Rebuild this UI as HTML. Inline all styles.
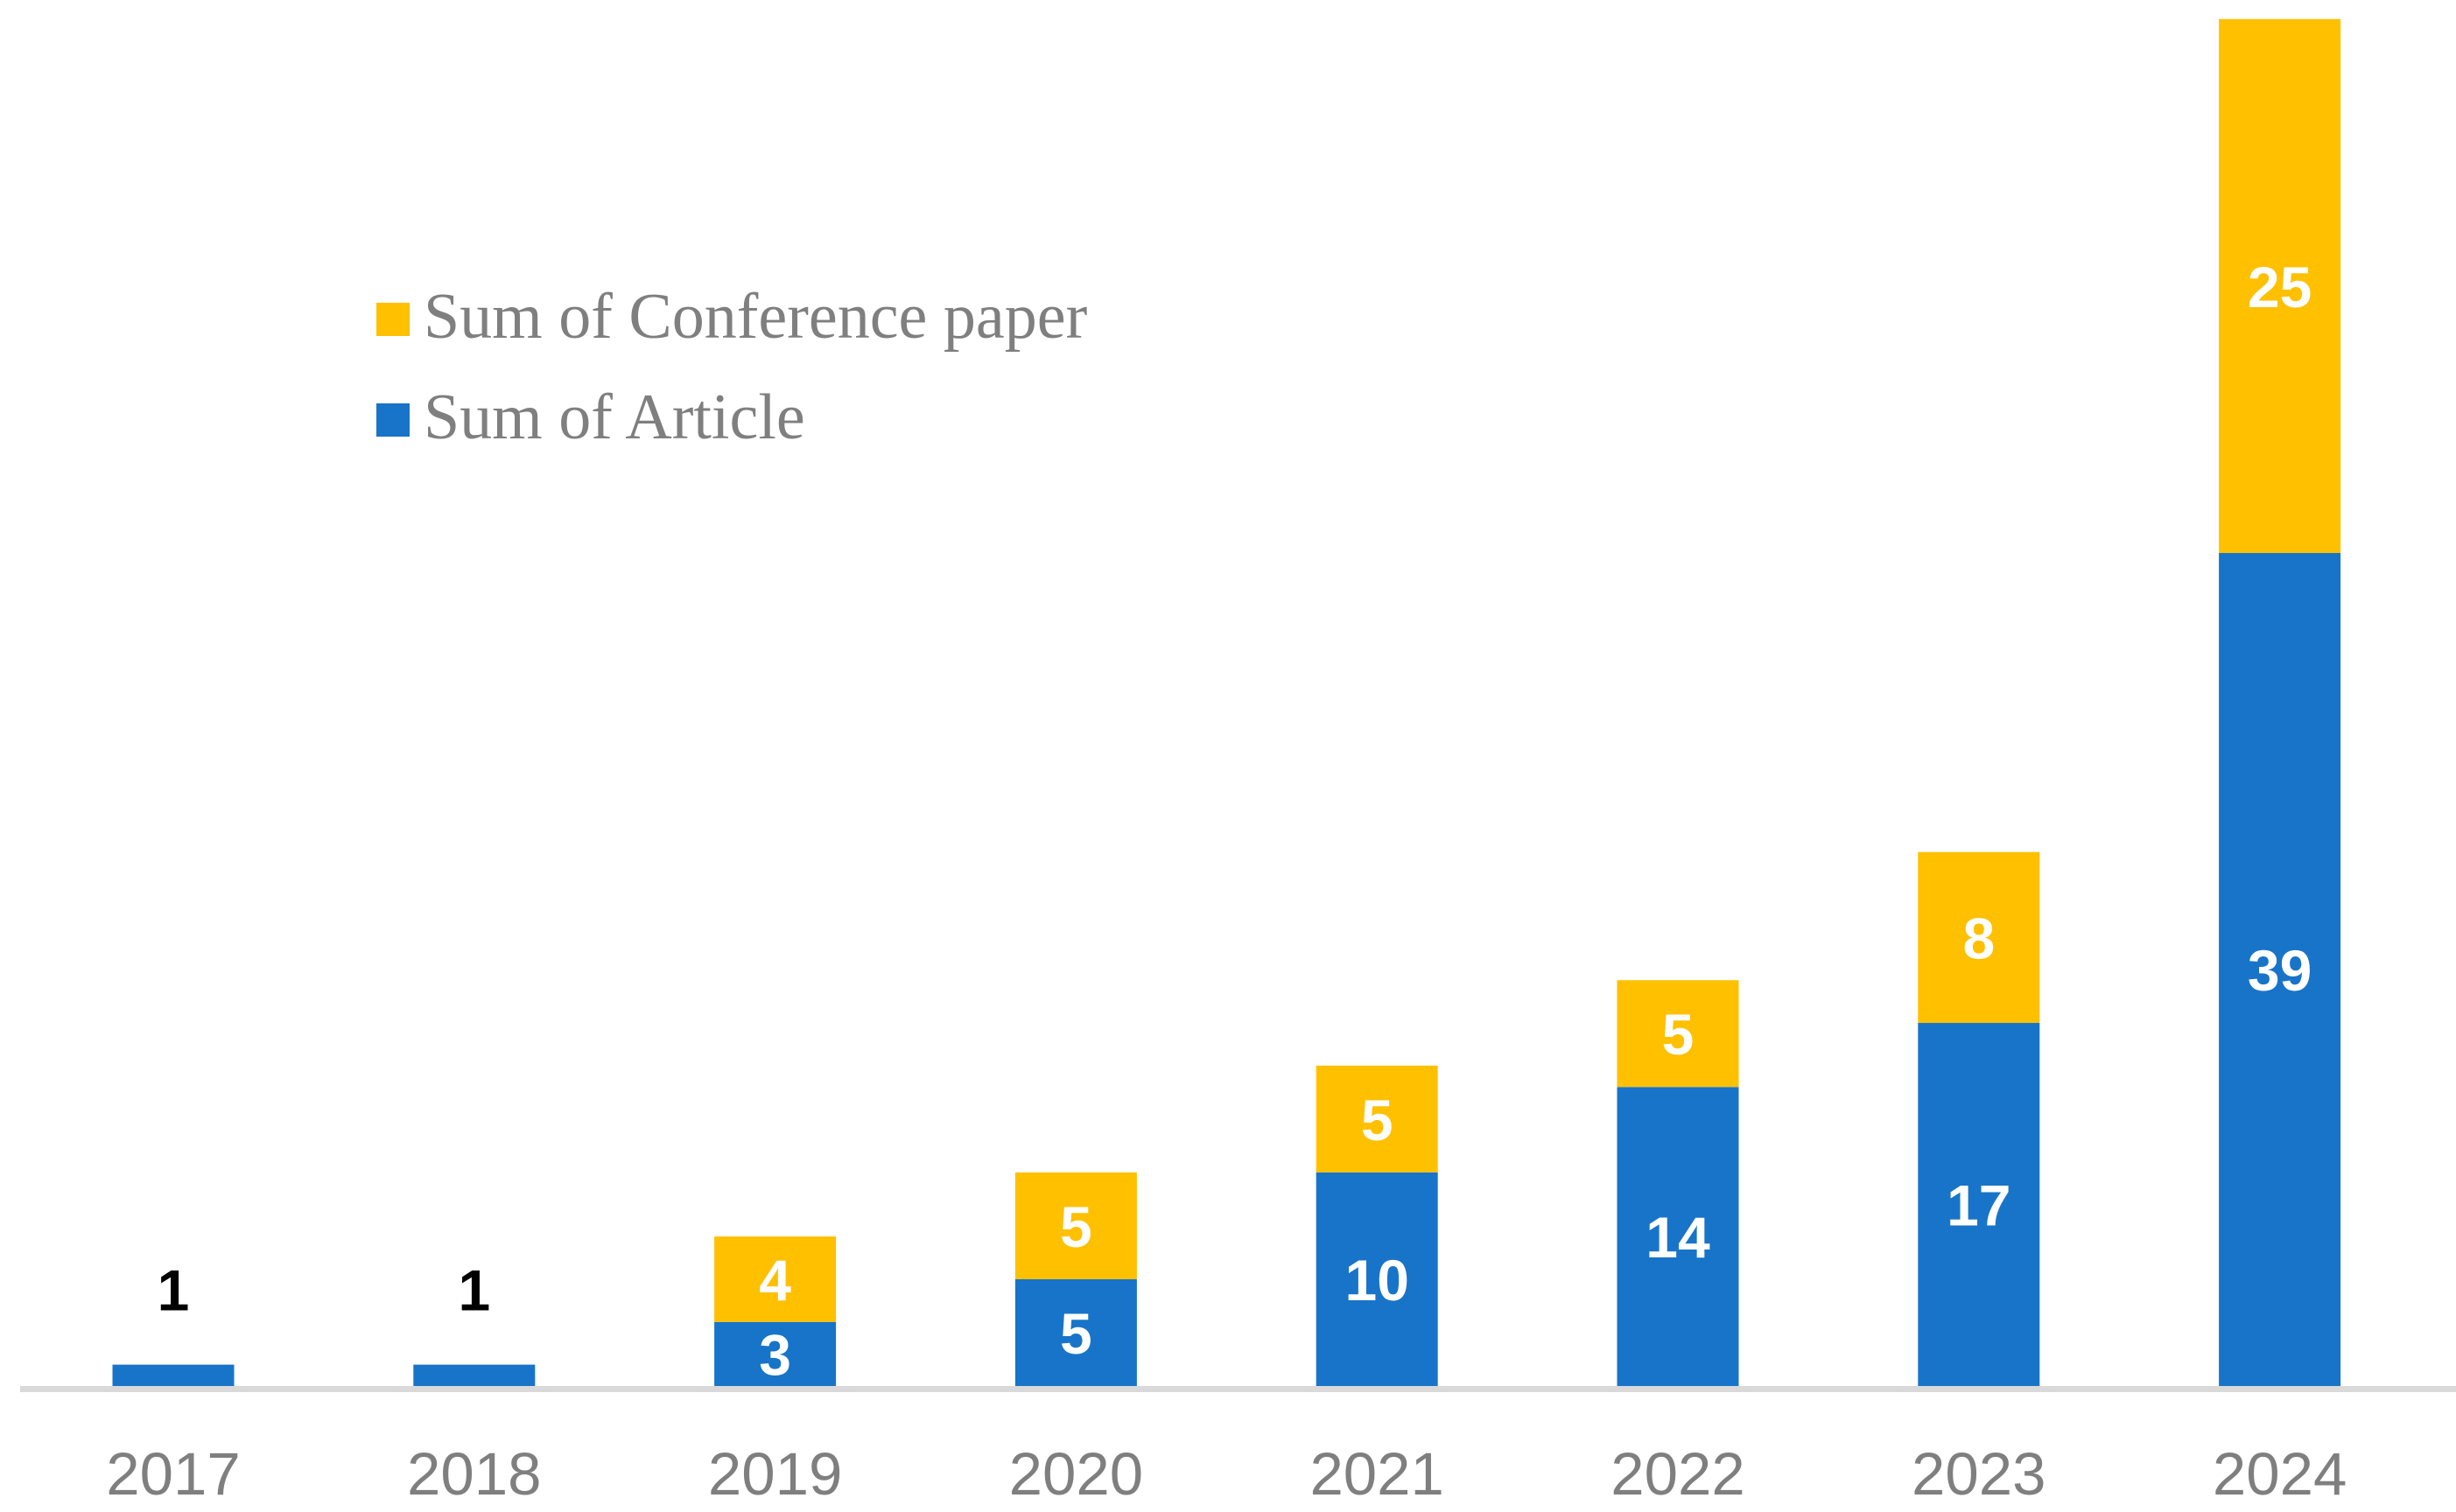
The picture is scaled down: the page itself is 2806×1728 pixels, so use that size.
<!DOCTYPE html>
<html><head><meta charset="utf-8"><style>
html,body{margin:0;padding:0;background:#fff;}
svg{display:block;}
</style></head><body>
<svg id="chart" width="2806" height="1728" viewBox="0 0 2806 1728" xmlns="http://www.w3.org/2000/svg">
<g id="legend">
  <rect x="430" y="346" width="38" height="38" fill="#FFC000"/>
  <text x="484" y="386" font-family="Liberation Serif, serif" font-size="74" fill="#7f7f7f">Sum of Conference paper</text>
  <rect x="430" y="461" width="38" height="38" fill="#1874C8"/>
  <text x="484" y="501" font-family="Liberation Serif, serif" font-size="74" fill="#7f7f7f">Sum of Article</text>
</g>
<g id="bars"></g>
<rect x="23" y="1584" width="2783" height="7" fill="#d9d9d9"/>
<g id="xlabels"></g>
</svg>
<script>
const years = ["2017","2018","2019","2020","2021","2022","2023","2024"];
const articles = [1,1,3,5,10,14,17,39];
const conference = [0,0,4,5,5,5,8,25];

const NS = "http://www.w3.org/2000/svg";
const baseY = 1584, unit = 24.41;
const x0 = 198, step = 343.8, barW = 139;
function xCenter(i){ return x0 + i*step; }
function yScale(v){ return baseY - v*unit; }
const bars = document.getElementById('bars');
const xl = document.getElementById('xlabels');
function mk(tag, attrs){ const e=document.createElementNS(NS,tag); for(const k in attrs) e.setAttribute(k,attrs[k]); return e; }
years.forEach((yr,i)=>{
  const cx = xCenter(i);
  const a = articles[i], c = conference[i];
  const ra = mk('rect',{x:cx-barW/2,y:yScale(a),width:barW,height:yScale(0)-yScale(a),fill:'#1874C8'});
  
  
  bars.appendChild(ra);
  if(c>0){
    const rc = mk('rect',{x:cx-barW/2,y:yScale(a+c),width:barW,height:yScale(a)-yScale(a+c),fill:'#FFC000'});
    
    
    bars.appendChild(rc);
    const tc = mk('text',{x:cx,y:(yScale(a)+yScale(a+c))/2+24,'text-anchor':'middle','font-family':'Liberation Sans, sans-serif','font-size':'66','font-weight':'bold',fill:'#fff'});
    tc.textContent = c;
    
    
    bars.appendChild(tc);
    const ta = mk('text',{x:cx,y:(yScale(0)+yScale(a))/2+24,'text-anchor':'middle','font-family':'Liberation Sans, sans-serif','font-size':'66','font-weight':'bold',fill:'#fff'});
    ta.textContent = a;
    
    
    bars.appendChild(ta);
  } else {
    const ta = mk('text',{x:cx,y:yScale(a)-62,'text-anchor':'middle','font-family':'Liberation Sans, sans-serif','font-size':'66','font-weight':'bold',fill:'#000'});
    ta.textContent = a;
    
    
    bars.appendChild(ta);
  }
  const t = mk('text',{x:cx,y:1708,'text-anchor':'middle','font-family':'Liberation Sans, sans-serif','font-size':'69',fill:'#7f7f7f'});
  t.textContent = yr;
  
  
  xl.appendChild(t);
});
</script>
</body></html>
